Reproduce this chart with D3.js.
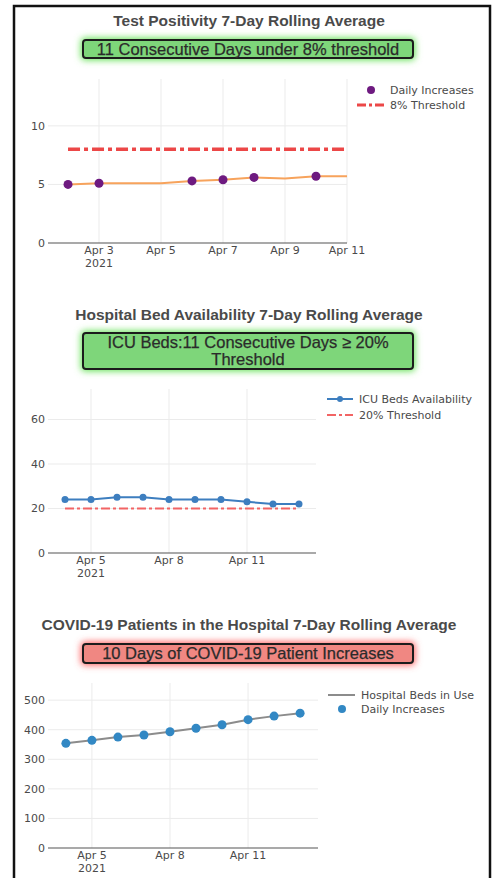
<!DOCTYPE html>
<html>
<head>
<meta charset="utf-8">
<script src="https://cdn.jsdelivr.net/npm/d3@7"></script>
<style>
  body { margin: 0; background: #fff; }
  svg { display: block; }
  .title { font-family: "Liberation Sans", Arial, sans-serif; font-weight: bold; font-size: 15.5px; fill: #4a4a4a; }
  .badge-text { font-family: "Liberation Sans", Arial, sans-serif; font-size: 16.5px; fill: #2b2b2b; stroke: #2b2b2b; stroke-width: 0.25px; }
  .tick-label, .legend-text { font-family: "DejaVu Sans", Verdana, sans-serif; font-size: 11px; fill: #4a4a4a; }
</style>
</head>
<body>
<svg id="chart"></svg>
<script>
// Test positivity (7-day rolling average)
const posDates = ["2021-04-02","2021-04-03","2021-04-04","2021-04-05","2021-04-06","2021-04-07","2021-04-08","2021-04-09","2021-04-10","2021-04-11"];
const posAverage = [5.0, 5.1, 5.1, 5.1, 5.3, 5.4, 5.6, 5.5, 5.7, 5.7];
const posIncreaseDates = ["2021-04-02","2021-04-03","2021-04-06","2021-04-07","2021-04-08","2021-04-10"];
const posIncreaseValues = [5.0, 5.1, 5.3, 5.4, 5.6, 5.7];
const posThreshold = 8;
const posXTicks = ["2021-04-03","2021-04-05","2021-04-07","2021-04-09","2021-04-11"];
const posYTicks = [0, 5, 10];

// ICU bed availability
const icuDates = ["2021-04-04","2021-04-05","2021-04-06","2021-04-07","2021-04-08","2021-04-09","2021-04-10","2021-04-11","2021-04-12","2021-04-13"];
const icuAvailability = [24, 24, 25, 25, 24, 24, 24, 23, 22, 22];
const icuThreshold = 20;
const icuXTicks = ["2021-04-05","2021-04-08","2021-04-11"];
const icuYTicks = [0, 20, 40, 60];

// COVID-19 patients in hospital
const hospDates = ["2021-04-04","2021-04-05","2021-04-06","2021-04-07","2021-04-08","2021-04-09","2021-04-10","2021-04-11","2021-04-12","2021-04-13"];
const hospBeds = [354, 364, 375, 382, 393, 405, 417, 434, 446, 456];
const hospXTicks = ["2021-04-05","2021-04-08","2021-04-11"];
const hospYTicks = [0, 100, 200, 300, 400, 500];

const parse = d3.utcParse("%Y-%m-%d");
const parseT = d3.utcParse("%Y-%m-%dT%H:%M");
const fmt = d3.utcFormat("%b %-d");

const width = 495, height = 878;
const svg = d3.select("#chart").attr("width", width).attr("height", height);

const defs = svg.append("defs");
defs.append("filter").attr("id", "glow")
  .attr("x", "-20%").attr("y", "-80%").attr("width", "140%").attr("height", "260%")
  .append("feGaussianBlur").attr("stdDeviation", 3.5);

// outer frame
svg.append("rect")
  .attr("x", 14).attr("y", 6).attr("width", 476).attr("height", 900)
  .attr("fill", "none").attr("stroke", "#111").attr("stroke-width", 2.5);

function badge(y, h, fill, glow, lines) {
  const g = svg.append("g");
  g.append("rect").attr("x", 81).attr("y", y - 2).attr("width", 334).attr("height", h + 4)
    .attr("rx", 4).attr("fill", glow).attr("filter", "url(#glow)");
  g.append("rect").attr("x", 83).attr("y", y).attr("width", 330).attr("height", h)
    .attr("rx", 3).attr("fill", fill).attr("stroke", "#1c1c1c").attr("stroke-width", 2);
  const lh = 17;
  const y0 = y + h / 2 - (lines.length - 1) * lh / 2;
  lines.forEach((t, i) => {
    g.append("text").attr("class", "badge-text")
      .attr("x", 248).attr("y", y0 + i * lh).attr("dy", "0.36em")
      .attr("text-anchor", "middle").text(t);
  });
}

function title(y, t) {
  svg.append("text").attr("class", "title")
    .attr("x", 249).attr("y", y).attr("dy", "0.36em")
    .attr("text-anchor", "middle").text(t);
}

function plotFrame(cfg) {
  const x = d3.scaleUtc().domain(cfg.xDomain.map(parseT)).range([48, cfg.right]);
  const y = d3.scaleLinear().domain([0, cfg.yMax]).range([cfg.bottom, cfg.top]);
  const g = svg.append("g");

  // grid
  g.selectAll(".vgrid").data(cfg.xTicks.map(parse)).enter().append("line")
    .attr("x1", d => x(d)).attr("x2", d => x(d))
    .attr("y1", cfg.top).attr("y2", cfg.bottom)
    .attr("stroke", "#ebebeb").attr("stroke-width", 1);
  g.selectAll(".hgrid").data(cfg.yTicks.filter(v => v > 0)).enter().append("line")
    .attr("x1", 48).attr("x2", cfg.right)
    .attr("y1", d => y(d)).attr("y2", d => y(d))
    .attr("stroke", "#ebebeb").attr("stroke-width", 1);

  // zero line
  g.append("line").attr("x1", 48).attr("x2", cfg.right)
    .attr("y1", y(0)).attr("y2", y(0)).attr("stroke", "#555").attr("stroke-width", 1.2);

  // y tick labels
  g.selectAll(".ylab").data(cfg.yTicks).enter().append("text")
    .attr("class", "tick-label")
    .attr("x", 45).attr("y", d => y(d)).attr("dy", "0.36em")
    .attr("text-anchor", "end").text(d => d);

  // x tick labels
  const xt = g.selectAll(".xlab").data(cfg.xTicks.map(parse)).enter().append("text")
    .attr("class", "tick-label")
    .attr("x", d => x(d)).attr("y", cfg.bottom + 11)
    .attr("text-anchor", "middle");
  xt.append("tspan").attr("x", d => x(d)).text(fmt);
  xt.filter((d, i) => i === 0).append("tspan")
    .attr("x", d => x(d)).attr("dy", 13).text(d => d.getUTCFullYear());

  return { x, y, g };
}

// ---------- Chart 1: Test positivity ----------
title(20, "Test Positivity 7-Day Rolling Average");
badge(40, 18, "#7ed67a", "#5fe04f", ["11 Consecutive Days under 8% threshold"]);
{
  const { x, y, g } = plotFrame({
    xDomain: ["2021-04-01T08:30", "2021-04-11T00:00"], right: 347,
    yMax: 14, top: 79, bottom: 243, xTicks: posXTicks, yTicks: posYTicks
  });
  const dates = posDates.map(parse);
  g.append("line")
    .attr("x1", x(dates[0])).attr("x2", x(dates[dates.length - 1]))
    .attr("y1", y(posThreshold)).attr("y2", y(posThreshold))
    .attr("stroke", "#ec4747").attr("stroke-width", 3.5).attr("stroke-dasharray", "12,4,4,4");
  g.append("path").datum(posAverage)
    .attr("fill", "none").attr("stroke", "#f7a35c").attr("stroke-width", 2)
    .attr("d", d3.line().x((d, i) => x(dates[i])).y(d => y(d)));
  g.selectAll(".dot").data(posIncreaseValues).enter().append("circle")
    .attr("cx", (d, i) => x(parse(posIncreaseDates[i]))).attr("cy", d => y(d))
    .attr("r", 4.5).attr("fill", "#6e1a80");

  svg.append("circle").attr("cx", 371).attr("cy", 90).attr("r", 4).attr("fill", "#6e1a80");
  svg.append("text").attr("class", "legend-text").attr("x", 390).attr("y", 90).attr("dy", "0.36em").text("Daily Increases");
  svg.append("line").attr("x1", 357).attr("x2", 385).attr("y1", 105).attr("y2", 105)
    .attr("stroke", "#ec4747").attr("stroke-width", 3).attr("stroke-dasharray", "9,3,3,3");
  svg.append("text").attr("class", "legend-text").attr("x", 390).attr("y", 105).attr("dy", "0.36em").text("8% Threshold");
}

// ---------- Chart 2: ICU beds ----------
title(314, "Hospital Bed Availability 7-Day Rolling Average");
badge(333, 36, "#7ed67a", "#5fe04f", ["ICU Beds:11 Consecutive Days \u2265 20%", "Threshold"]);
{
  const { x, y, g } = plotFrame({
    xDomain: ["2021-04-03T08:18", "2021-04-13T15:42"], right: 316,
    yMax: 73.7, top: 389, bottom: 553, xTicks: icuXTicks, yTicks: icuYTicks
  });
  const dates = icuDates.map(parse);
  g.append("line")
    .attr("x1", x(dates[0])).attr("x2", x(dates[dates.length - 1]))
    .attr("y1", y(icuThreshold)).attr("y2", y(icuThreshold))
    .attr("stroke", "#f26464").attr("stroke-width", 2).attr("stroke-dasharray", "9,3,3,3");
  g.append("path").datum(icuAvailability)
    .attr("fill", "none").attr("stroke", "#3d7ebf").attr("stroke-width", 2)
    .attr("d", d3.line().x((d, i) => x(dates[i])).y(d => y(d)));
  g.selectAll(".dot").data(icuAvailability).enter().append("circle")
    .attr("cx", (d, i) => x(dates[i])).attr("cy", d => y(d))
    .attr("r", 3.5).attr("fill", "#3d7ebf");

  svg.append("line").attr("x1", 327).attr("x2", 353).attr("y1", 399).attr("y2", 399)
    .attr("stroke", "#3d7ebf").attr("stroke-width", 2);
  svg.append("circle").attr("cx", 340).attr("cy", 399).attr("r", 3).attr("fill", "#3d7ebf");
  svg.append("text").attr("class", "legend-text").attr("x", 359).attr("y", 399).attr("dy", "0.36em").text("ICU Beds Availability");
  svg.append("line").attr("x1", 327).attr("x2", 353).attr("y1", 415).attr("y2", 415)
    .attr("stroke", "#f26464").attr("stroke-width", 2).attr("stroke-dasharray", "9,3,3,3");
  svg.append("text").attr("class", "legend-text").attr("x", 359).attr("y", 415).attr("dy", "0.36em").text("20% Threshold");
}

// ---------- Chart 3: COVID-19 patients ----------
title(624, "COVID-19 Patients in the Hospital 7-Day Rolling Average");
badge(644, 19, "#f08782", "#ff5a5a", ["10 Days of COVID-19 Patient Increases"]);
{
  const { x, y, g } = plotFrame({
    xDomain: ["2021-04-03T07:30", "2021-04-13T16:30"], right: 318,
    yMax: 558, top: 683, bottom: 848, xTicks: hospXTicks, yTicks: hospYTicks
  });
  const dates = hospDates.map(parse);
  g.append("path").datum(hospBeds)
    .attr("fill", "none").attr("stroke", "#8c8c8c").attr("stroke-width", 2)
    .attr("d", d3.line().x((d, i) => x(dates[i])).y(d => y(d)));
  g.selectAll(".dot").data(hospBeds).enter().append("circle")
    .attr("cx", (d, i) => x(dates[i])).attr("cy", d => y(d))
    .attr("r", 4.5).attr("fill", "#3288c4");

  svg.append("line").attr("x1", 328).attr("x2", 355).attr("y1", 695).attr("y2", 695)
    .attr("stroke", "#8c8c8c").attr("stroke-width", 2);
  svg.append("text").attr("class", "legend-text").attr("x", 361).attr("y", 695).attr("dy", "0.36em").text("Hospital Beds in Use");
  svg.append("circle").attr("cx", 342).attr("cy", 709).attr("r", 4).attr("fill", "#3288c4");
  svg.append("text").attr("class", "legend-text").attr("x", 361).attr("y", 709).attr("dy", "0.36em").text("Daily Increases");
}
</script>
</body>
</html>
